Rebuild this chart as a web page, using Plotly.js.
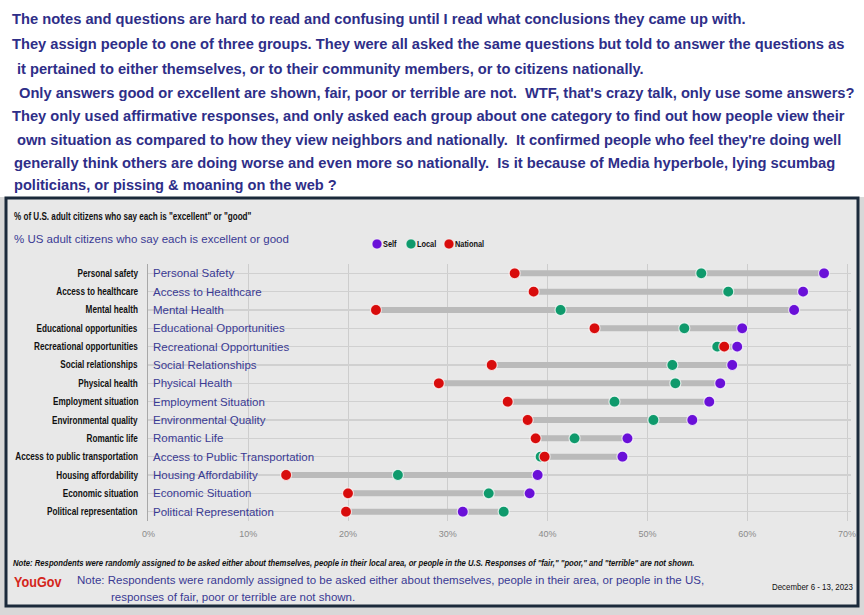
<!DOCTYPE html>
<html><head><meta charset="utf-8">
<script src="https://cdn.plot.ly/plotly-3.0.1.min.js"></script>
<style>html,body{margin:0;padding:0;background:#fff}#chart{width:864px;height:615px}</style>
</head><body><div id="chart"></div>
<script>
// ---------- data ----------
const categories = ['Personal safety','Access to healthcare','Mental health','Educational opportunities',
  'Recreational opportunities','Social relationships','Physical health','Employment situation',
  'Environmental quality','Romantic life','Access to public transportation','Housing affordability',
  'Economic situation','Political representation'];
const displayLabels = ['Personal Safety','Access to Healthcare','Mental Health','Educational Opportunities',
  'Recreational Opportunities','Social Relationships','Physical Health','Employment Situation',
  'Environmental Quality','Romantic Life','Access to Public Transportation','Housing Affordability',
  'Economic Situation','Political Representation'];
const selfValues     = [67.7, 65.6, 64.7, 59.5, 59.0, 58.5, 57.3, 56.2, 54.5, 48.0, 47.5, 39.0, 38.2, 31.5];
const localValues    = [55.4, 58.1, 41.3, 53.7, 57.0, 52.5, 52.8, 46.7, 50.6, 42.7, 39.3, 25.0, 34.1, 35.6];
const nationalValues = [36.7, 38.6, 22.8, 44.7, 57.7, 34.4, 29.1, 36.0, 38.0, 38.8, 39.7, 13.8, 20.0, 19.8];
const seriesNames  = ['Self','Local','National'];
const seriesColors = ['#6a10d8','#0f9a6c','#d80c0c'];
const xTickValues = [0,10,20,30,40,50,60,70];
const xTickLabels = ['0%','10%','20%','30%','40%','50%','60%','70%'];
const commentaryLines = [
  'The notes and questions are hard to read and confusing until I read what conclusions they came up with.',
  'They assign people to one of three groups. They were all asked the same questions but told to answer the questions as',
  'it pertained to either themselves, or to their community members, or to citizens nationally.',
  'Only answers good or excellent are shown, fair, poor or terrible are not.  WTF, that\'s crazy talk, only use some answers?',
  'They only used affirmative responses, and only asked each group about one category to find out how people view their',
  'own situation as compared to how they view neighbors and nationally.  It confirmed people who feel they\'re doing well',
  'generally think others are doing worse and even more so nationally.  Is it because of Media hyperbole, lying scumbag',
  'politicians, or pissing &amp; moaning on the web ?'
];
const originalHeader = '% of U.S. adult citizens who say each is "excellent" or "good"';
const retypedHeader = '% US adult citizens who say each is excellent or good';
const originalNote = 'Note: Respondents were randomly assigned to be asked either about themselves, people in their local area, or people in the U.S. Responses of "fair," "poor," and "terrible" are not shown.';
const retypedNote1 = 'Note: Respondents were randomly assigned to be asked either about themselves, people in their area, or people in the US,';
const retypedNote2 = 'responses of fair, poor or terrible are not shown.';
const sourceLabel = 'YouGov';
const dateLabel = 'December 6 - 13, 2023';

// ---------- layout helpers ----------
const W = 864, H = 615;
const px = x => x / W;
const py = y => 1 - y / H;
const SANS = '"Liberation Sans",Arial,sans-serif';
const BLUE = '#3a3a94';
const NARROW = 0.82;            // Arial Narrow is ~82% of Arial's width

const annotations = [];
const fits = [];                // per annotation: {factor} or {target}
function add(text, x, y, size, color, opts, fit) {
  const o = opts || {};
  annotations.push({
    text: text, xref: o.xref || 'paper', yref: o.yref || 'paper',
    x: o.xref === 'x' ? x : px(x), y: o.yref === 'y' ? y : py(y),
    xanchor: o.xanchor || 'left', align: o.xanchor === 'right' ? 'right' : 'left',
    yanchor: 'middle', showarrow: false,
    font: {size: size, color: color, family: SANS, weight: o.weight || 'normal', style: o.style || 'normal'}
  });
  fits.push(fit || null);
}

// ---------- traces ----------
const connX = [], connY = [];
categories.forEach((c, i) => {
  const v = [selfValues[i], localValues[i], nationalValues[i]];
  connX.push(Math.min(...v), Math.max(...v), null);
  connY.push(c, c, null);
});
const traces = [{
  type: 'scatter', mode: 'lines', x: connX, y: connY,
  line: {color: '#bababa', width: 6}, hoverinfo: 'skip', showlegend: false
}];
const valueSets = {Self: selfValues, Local: localValues, National: nationalValues};
['Local','National','Self'].forEach(name => {
  const k = seriesNames.indexOf(name);
  traces.push({
    type: 'scatter', mode: 'markers', name: name,
    x: valueSets[name], y: categories,
    marker: {size: 11, color: seriesColors[k], line: {color: 'rgba(255,255,255,0.75)', width: 1.2}},
    showlegend: false
  });
});

// ---------- annotations ----------
const commentaryPos = [[10,19,744],[10,43,843],[15,68,642],[16.5,92,853],[10,116,843],[15,139,840],[12,162,834],[12,185,335]];
commentaryLines.forEach((t, i) => {
  const p = commentaryPos[i];
  add(t, p[0], p[1], 15.5, '#2e2e88', {weight: 'bold'}, {target: p[2] - p[0]});
});
add(originalHeader, 12, 217, 10, '#111', {weight: 'bold'}, {target: 238});
add(retypedHeader, 12, 239, 11.5, BLUE);
categories.forEach((c, i) => {
  add(c, 140, c, 10, '#111', {yref: 'y', xanchor: 'right', weight: 'bold'}, {factor: NARROW});
  add(displayLabels[i], 151, c, 11.5, BLUE, {yref: 'y'});
});
// legend
const legendX = [377, 411, 449];
const legendShapes = [];
seriesNames.forEach((n, k) => {
  legendShapes.push({type: 'circle', xref: 'paper', yref: 'paper', layer: 'above',
    x0: px(legendX[k] - 5), x1: px(legendX[k] + 5), y0: py(249), y1: py(239),
    fillcolor: seriesColors[k], line: {color: 'rgba(255,255,255,0.6)', width: 1}});
  add(n, legendX[k] + 4, 244, 9, '#111', {weight: 'bold'}, {factor: NARROW});
});
add(originalNote, 11, 563, 9, '#111', {weight: 'bold', style: 'italic'}, {target: 683});
add(sourceLabel, 12, 581, 15, '#d4261b', {weight: 'bold'}, {target: 48});
add(retypedNote1, 75, 580, 11.5, BLUE);
add(retypedNote2, 109, 597, 11.5, BLUE);
add(dateLabel, 770, 587, 9, '#111', {}, {target: 81});

// ---------- layout ----------
const rowTop = 273.3, rowBottom = 511.7, rowStep = (rowBottom - rowTop) / (categories.length - 1);
const layout = {
  width: W, height: H, margin: {l: 0, r: 0, t: 0, b: 0},
  paper_bgcolor: '#ffffff', plot_bgcolor: 'rgba(0,0,0,0)',
  showlegend: false,
  xaxis: {
    domain: [px(148.4), px(148.4 + 9.98 * 70.4)], range: [0, 70.4],
    tickvals: xTickValues, ticktext: xTickLabels,
    tickfont: {size: 9, color: '#8a8a8a', family: SANS},
    showgrid: true, gridcolor: '#cdcdcd', gridwidth: 1,
    zeroline: false, showline: false, ticks: '', ticklabelstandoff: 6, fixedrange: true
  },
  yaxis: {
    domain: [py(rowBottom + rowStep / 2), py(rowTop - rowStep / 2)],
    type: 'category', categoryorder: 'array', categoryarray: categories,
    range: [categories.length - 0.5, -0.5],
    showticklabels: false,
    showgrid: true, gridcolor: '#d0d0d0', gridwidth: 1.5,
    showline: true, linecolor: '#a8a8a8', linewidth: 1,
    ticks: '', zeroline: false, fixedrange: true
  },
  shapes: [
    {type: 'rect', xref: 'paper', yref: 'paper', layer: 'below',
      x0: 0, x1: 1, y0: 0, y1: py(197), fillcolor: '#d8d8d8', line: {width: 0}},
    {type: 'rect', xref: 'paper', yref: 'paper', layer: 'below',
      x0: px(6), x1: px(858), y0: py(606), y1: py(198), fillcolor: '#e8e8e8',
      line: {color: '#1b2a3b', width: 3}}
  ].concat(legendShapes),
  annotations: annotations
};

// Emulate the narrow typeface of the screenshot by condensing text horizontally.
function condense() {
  document.querySelectorAll('#chart g.annotation').forEach(g => {
    const idx = parseInt(g.getAttribute('data-index'), 10);
    const fit = fits[idx];
    const t = g.querySelector('text.annotation-text');
    if (!fit || !t) return;
    const bb = t.getBBox();
    if (!bb.width) return;
    const f = fit.factor || (fit.target / bb.width);
    const anchor = t.getAttribute('text-anchor');
    const ax = anchor === 'end' ? bb.x + bb.width : bb.x;
    t.setAttribute('transform', 'matrix(' + f + ',0,0,1,' + (ax * (1 - f)) + ',0)');
  });
}
Plotly.newPlot('chart', traces, layout, {displayModeBar: false, staticPlot: true}).then(condense);
</script></body></html>
